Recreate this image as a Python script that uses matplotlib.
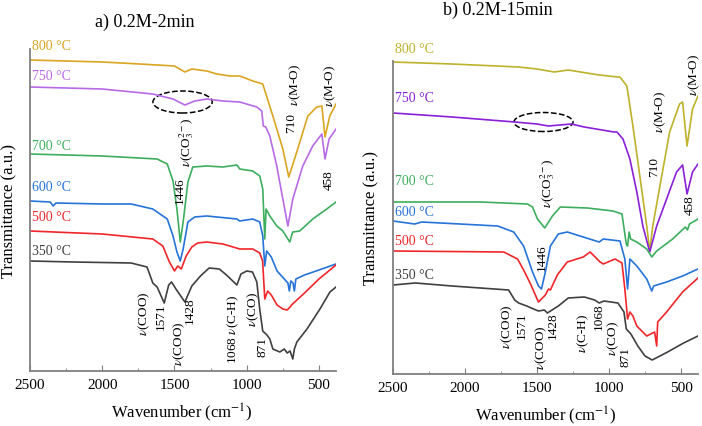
import matplotlib
matplotlib.use("Agg")
import matplotlib.pyplot as plt
from matplotlib.patches import Ellipse
from matplotlib.ticker import MultipleLocator

plt.rcParams['font.family'] = ['Liberation Serif', 'DejaVu Serif']
plt.rcParams['mathtext.fontset'] = 'stix'

# ---- panel a) 0.2M-2min : wavenumber (cm-1) and transmittance (a.u.) ----
wn_a800 = [2500, 2000, 1740, 1500, 1428, 1380, 1276, 1207, 1117, 1048, 958, 889, 819, 750, 709, 647, 577, 515, 480, 458, 425, 382]
t_a800 = [311, 309, 307, 305, 299, 302, 300, 297, 295, 295, 290, 287, 255, 222, 194, 222, 255, 264, 265, 234, 255, 267]

wn_a750 = [2500, 2000, 1650, 1510, 1428, 1360, 1276, 1165, 1048, 930, 896, 885, 868, 840, 792, 750, 715, 681, 612, 543, 480, 458, 430, 382]
t_a750 = [284, 282, 277, 272, 266, 270, 272, 270, 269, 264, 260, 245, 244, 235, 205, 172, 145, 172, 205, 225, 237, 212, 232, 242]

wn_a700 = [2500, 2000, 1620, 1550, 1510, 1483, 1460, 1440, 1407, 1373, 1276, 1165, 1068, 1048, 958, 910, 889, 875, 866, 840, 792, 750, 702, 690, 681, 633, 543, 446, 382]
t_a700 = [217, 215, 212, 207, 190, 162, 129, 149, 189, 204, 205, 204, 206, 202, 200, 195, 182, 132, 162, 155, 145, 140, 129, 135, 139, 140, 152, 162, 169]

wn_a600 = [2500, 2360, 2340, 2320, 2000, 1800, 1650, 1550, 1510, 1483, 1460, 1440, 1407, 1360, 1276, 1068, 1048, 958, 910, 889, 875, 862, 830, 790, 740, 715, 705, 695, 680, 670, 660, 600, 500, 382]
t_a600 = [170, 169, 165, 168, 167, 167, 162, 152, 135, 119, 110, 122, 149, 154, 155, 152, 150, 152, 149, 135, 105, 120, 114, 100, 92, 88, 80, 90, 88, 80, 92, 96, 101, 107]

wn_a500 = [2500, 2000, 1650, 1581, 1535, 1500, 1477, 1453, 1419, 1380, 1340, 1276, 1165, 1048, 958, 910, 890, 875, 855, 830, 790, 750, 720, 700, 690, 600, 500, 382]
t_a500 = [140, 137, 132, 125, 109, 100, 105, 102, 115, 124, 128, 129, 127, 122, 122, 118, 110, 72, 80, 76, 66, 62, 61, 64, 66, 78, 92, 106]

wn_a350 = [2500, 2200, 1800, 1690, 1650, 1620, 1571, 1540, 1520, 1490, 1428, 1380, 1320, 1260, 1190, 1140, 1068, 1040, 1000, 960, 930, 910, 889, 860, 840, 819, 771, 740, 720, 700, 681, 670, 653, 583, 493, 424, 382]
t_a350 = [110, 109, 108, 104, 88, 84, 68, 86, 89, 82, 69, 85, 95, 103, 102, 96, 86, 97, 100, 99, 89, 62, 40, 36, 32, 22, 19, 22, 18, 20, 12, 22, 29, 42, 62, 79, 84]

# ---- panel b) 0.2M-15min ----
wn_b800 = [2500, 2090, 1628, 1500, 1380, 1283, 1069, 938, 924, 876, 834, 786, 738, 717, 696, 634, 579, 510, 489, 458, 420, 382]
t_b800 = [312, 310, 307, 305, 302, 304, 299, 297, 297, 288, 248, 198, 148, 123, 148, 198, 242, 270, 272, 228, 265, 278]

wn_b750 = [2500, 2090, 1655, 1500, 1421, 1262, 1172, 965, 945, 903, 855, 807, 765, 717, 669, 600, 531, 489, 458, 420, 382]
t_b750 = [261, 257, 252, 250, 248, 250, 247, 242, 242, 235, 215, 182, 148, 122, 148, 175, 202, 209, 180, 202, 210]

wn_b700 = [2500, 1890, 1566, 1531, 1497, 1446, 1393, 1338, 1150, 972, 910, 880, 871, 860, 850, 807, 738, 703, 669, 558, 470, 455, 441, 382]
t_b700 = [172, 172, 170, 167, 155, 146, 158, 167, 166, 163, 160, 130, 128, 142, 135, 132, 125, 117, 123, 135, 147, 144, 150, 155]

wn_b600 = [2500, 2350, 2300, 1773, 1662, 1593, 1531, 1490, 1469, 1442, 1407, 1352, 1290, 1179, 1068, 1040, 924, 890, 871, 855, 807, 738, 703, 690, 600, 489, 382]
t_b600 = [153, 150, 152, 148, 142, 128, 102, 88, 85, 102, 128, 140, 142, 137, 132, 135, 133, 115, 85, 115, 108, 95, 83, 88, 92, 98, 105]

wn_b500 = [2500, 1731, 1635, 1593, 1545, 1490, 1442, 1420, 1407, 1359, 1290, 1179, 1131, 1062, 1040, 958, 910, 890, 871, 855, 834, 807, 738, 683, 669, 662, 600, 489, 382]
t_b500 = [123, 122, 115, 104, 90, 72, 79, 85, 84, 99, 112, 117, 122, 112, 110, 115, 111, 85, 55, 62, 58, 48, 38, 42, 28, 52, 62, 82, 96]

wn_b350 = [2500, 2345, 2090, 1697, 1655, 1628, 1571, 1540, 1490, 1449, 1428, 1352, 1283, 1172, 1100, 1068, 1035, 938, 896, 880, 848, 800, 750, 700, 593, 482, 382]
t_b350 = [89, 91, 88, 84, 74, 71, 68, 66, 63, 64, 61, 68, 76, 77, 74, 71, 73, 71, 62, 45, 40, 28, 18, 14, 22, 31, 38]

temps = ['800 °C', '750 °C', '700 °C', '600 °C', '500 °C', '350 °C']
colors_a = ['#DAA520', '#B86AE6', '#3DAE5E', '#2673D9', '#F0262A', '#404040']
colors_b = ['#BDB22A', '#8A20D8', '#3DAE5E', '#2673D9', '#F0262A', '#404040']
label_y_a = [325, 296, 226, 184, 154, 120]
label_y_b = [325, 276, 193, 162, 133, 99]

nu = r'$\nu$'

fig = plt.figure(figsize=(7.02, 4.27), dpi=100)
ax1 = fig.add_axes([30 / 702, 55 / 427, 306 / 702, 322 / 427])
ax2 = fig.add_axes([393 / 702, 52 / 427, 305 / 702, 313 / 427])

series_a = [(wn_a800, t_a800), (wn_a750, t_a750), (wn_a700, t_a700),
            (wn_a600, t_a600), (wn_a500, t_a500), (wn_a350, t_a350)]
series_b = [(wn_b800, t_b800), (wn_b750, t_b750), (wn_b700, t_b700),
            (wn_b600, t_b600), (wn_b500, t_b500), (wn_b350, t_b350)]

for ax, series, cols, ly, ytop in [(ax1, series_a, colors_a, label_y_a, 322),
                                   (ax2, series_b, colors_b, label_y_b, 313)]:
    for (x, y), c, t, yy in zip(series, cols, temps, ly):
        ax.plot(x, y, color=c, lw=1.2)
        ax.text(2486, yy, t, color=c, fontsize=10, ha='left', va='center')
    ax.set_xlim(2500, 382)
    ax.set_ylim(0, ytop)
    ax.set_yticks([])
    ax.xaxis.set_major_locator(MultipleLocator(500))
    ax.xaxis.set_minor_locator(MultipleLocator(250))
    ax.tick_params(axis='x', which='both', direction='in', colors='#808080',
                   labelcolor='black', labelsize=11, pad=5)
    ax.tick_params(axis='x', which='major', length=4)
    ax.tick_params(axis='x', which='minor', length=2.5)
    for s in ['top', 'right']:
        ax.spines[s].set_visible(False)
    for s in ['left', 'bottom']:
        ax.spines[s].set_color('#808080')
        ax.spines[s].set_linewidth(1.3)
    ax.set_facecolor('none')

fs = 9.5
# annotations panel a
ax1.text(667, 287, nu + '(M-O)', rotation=90, ha='center', va='center', fontsize=fs)
ax1.text(694, 249, '710', rotation=90, ha='center', va='center', fontsize=fs)
ax1.text(424, 286, nu + '(M-O)', rotation=90, ha='center', va='center', fontsize=fs)
ax1.text(431, 192, '458', rotation=90, ha='center', va='center', fontsize=fs)
ax1.text(1417, 230, nu + r'(CO$_3^{2-}$)', rotation=90, ha='center', va='center', fontsize=fs)
ax1.text(1465, 181, '1446', rotation=90, ha='center', va='center', fontsize=fs)
ax1.text(1712, 58, nu + '(COO)', rotation=90, ha='center', va='center', fontsize=fs)
ax1.text(1592, 55, '1571', rotation=90, ha='center', va='center', fontsize=fs)
ax1.text(1465, 28, nu + '(COO)', rotation=90, ha='center', va='center', fontsize=fs)
ax1.text(1396, 61, '1428', rotation=90, ha='center', va='center', fontsize=fs)
ax1.text(1090, 43, '1068 ' + nu + '(C-H)', rotation=90, ha='center', va='center', fontsize=fs)
ax1.text(958, 62, nu + '(CO)', rotation=90, ha='center', va='center', fontsize=fs)
ax1.text(889, 25, '871', rotation=90, ha='center', va='center', fontsize=fs)
ax1.add_patch(Ellipse((1444, 269), 410, 22, fill=False, ls='--', lw=1.1, color='black'))

# annotations panel b
ax2.text(646, 263, nu + '(M-O)', rotation=90, ha='center', va='center', fontsize=fs)
ax2.text(688, 208, '710', rotation=90, ha='center', va='center', fontsize=fs)
ax2.text(410, 300, nu + '(M-O)', rotation=90, ha='center', va='center', fontsize=fs)
ax2.text(438, 170, '458', rotation=90, ha='center', va='center', fontsize=fs)
ax2.text(1424, 192, nu + r'(CO$_3^{2-}$)', rotation=90, ha='center', va='center', fontsize=fs)
ax2.text(1465, 117, '1446', rotation=90, ha='center', va='center', fontsize=fs)
ax2.text(1705, 48, nu + '(COO)', rotation=90, ha='center', va='center', fontsize=fs)
ax2.text(1605, 49, '1571', rotation=90, ha='center', va='center', fontsize=fs)
ax2.text(1472, 27, nu + '(COO)', rotation=90, ha='center', va='center', fontsize=fs)
ax2.text(1389, 49, '1428', rotation=90, ha='center', va='center', fontsize=fs)
ax2.text(1180, 42, nu + '(C-H)', rotation=90, ha='center', va='center', fontsize=fs)
ax2.text(1069, 58, '1068', rotation=90, ha='center', va='center', fontsize=fs)
ax2.text(972, 36, nu + '(CO)', rotation=90, ha='center', va='center', fontsize=fs)
ax2.text(882, 18, '871', rotation=90, ha='center', va='center', fontsize=fs)
ax2.add_patch(Ellipse((1455, 252), 410, 19, fill=False, ls='--', lw=1.1, color='black'))

# titles and axis labels
fig.text(145 / 702, 1 - 22 / 427, 'a) 0.2M-2min', ha='center', va='center', fontsize=13)
fig.text(498 / 702, 1 - 10 / 427, 'b) 0.2M-15min', ha='center', va='center', fontsize=13)
fig.text(9 / 702, 1 - 211 / 427, 'Transmittance (a.u.)', rotation=90, ha='center', va='center', fontsize=12)
fig.text(371 / 702, 1 - 218 / 427, 'Transmittance (a.u.)', rotation=90, ha='center', va='center', fontsize=12)
fig.text(182 / 702, 1 - 413 / 427, r'Wavenumber (cm$^{-1}$)', ha='center', va='center', fontsize=12)
fig.text(546 / 702, 1 - 416 / 427, r'Wavenumber (cm$^{-1}$)', ha='center', va='center', fontsize=12)

fig.savefig('out.png', dpi=100)
